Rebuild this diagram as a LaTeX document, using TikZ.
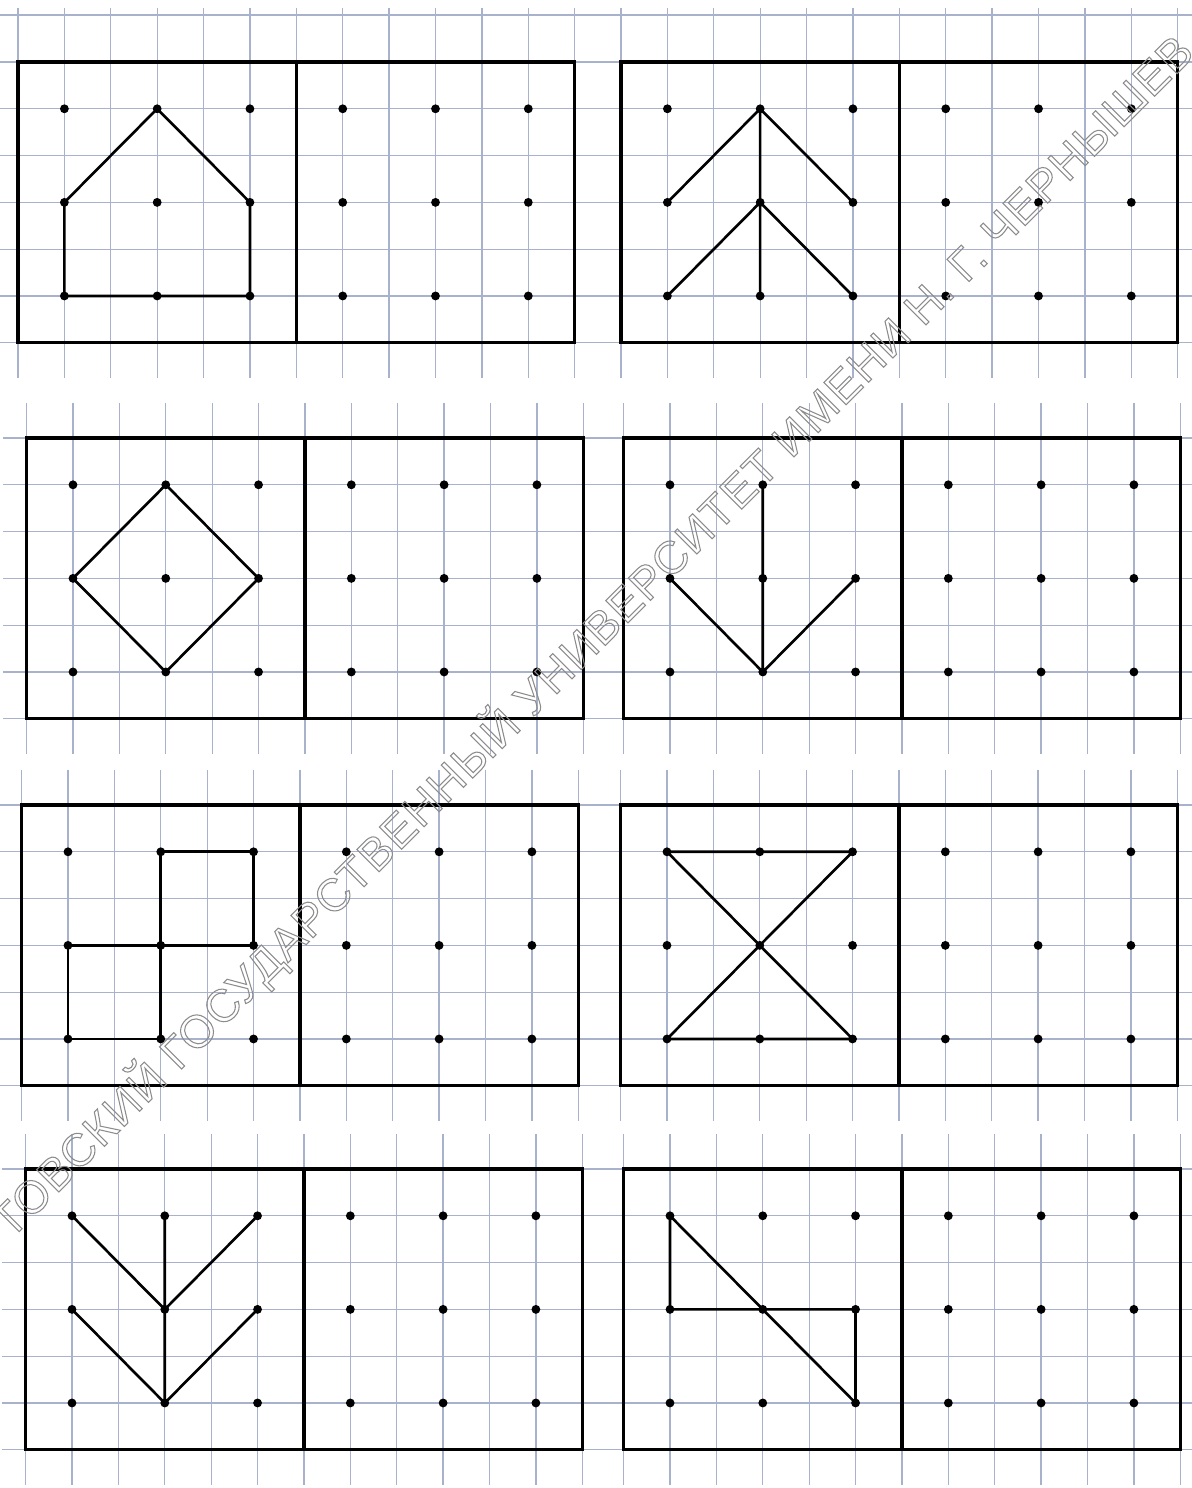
\documentclass[tikz,border=0pt]{standalone}
\usepackage{fontspec}
\setmainfont{Liberation Sans}
\newfontfamily\stampfont[LetterSpace=3]{Liberation Sans}

\newcommand{\sheetCellX}{0.928cm}
\newcommand{\sheetCellY}{0.936cm}
\definecolor{sheetgrid}{RGB}{168,178,204}
\definecolor{sheetstamp}{RGB}{140,140,140}

\tikzset{
  ws grid/.style={draw=sheetgrid, line width=0.75pt},
  ws frame/.style={draw=black, line width=1.8pt},
  ws figure/.style={draw=black, line width=1.5pt, line join=round, line cap=round},
  ws dot/.style={fill=black},
  ws stamp/.style={text=sheetstamp, font=\stampfont\fontsize{26}{26}\selectfont,
    rotate=45, inner sep=0pt},
}

% one exercise: squared paper, frame split in two halves, 3x3 dots in each half
% #1 name, #2 left (px), #3 top (px), #4 how far the grid reaches above (cells)
\newcommand{\sheetPanel}[4]{%
  \begin{scope}[shift={(#2,#3)}, x=\sheetCellX, y=-\sheetCellY]
    \foreach \k in {0,...,12}
      \draw[ws grid] (\k,-#4) -- (\k,6.75);
    \foreach \k in {0,...,6}
      \draw[ws grid] (-0.5,\k) -- (12.5,\k);
    \draw[ws frame] (0,0) rectangle (12,6) (6,0) -- (6,6);
    \foreach \i in {1,2,3}
      \foreach \j in {1,2,3} {
        \coordinate (#1-\i-\j) at ({2*\i-1},{2*\j-1});
        \coordinate (#1-copy-\i-\j) at ({2*\i+5},{2*\j-1});
        \fill[ws dot] (#1-\i-\j) circle[radius=0.095];
        \fill[ws dot] (#1-copy-\i-\j) circle[radius=0.095];
      }
  \end{scope}}

\begin{document}
\begin{tikzpicture}[x=0.02cm, y=-0.02cm]
\fill[white] (0,0) rectangle (1192,1488);
\clip (0,0) rectangle (1192,1488);

\draw[ws grid] (0,15) -- (1192,15);
\sheetPanel{house}{18}{62}{1.15}
\sheetPanel{fir}{621}{62}{1.15}
\sheetPanel{rhomb}{26.6}{438}{0.75}
\sheetPanel{arrow}{623.6}{438}{0.75}
\sheetPanel{steps}{21.6}{805}{0.75}
\sheetPanel{glass}{620.6}{805}{0.75}
\sheetPanel{branch}{25.6}{1169}{0.75}
\sheetPanel{flag}{623.6}{1169}{0.75}

% figures to copy
\draw[ws figure] (house-1-2) -- (house-2-1) -- (house-3-2) -- (house-3-3)
  -- (house-1-3) -- cycle;
\draw[ws figure] (fir-1-2) -- (fir-2-1) -- (fir-3-2)
  (fir-1-3) -- (fir-2-2) -- (fir-3-3) (fir-2-1) -- (fir-2-3);
\draw[ws figure] (rhomb-2-1) -- (rhomb-3-2) -- (rhomb-2-3) -- (rhomb-1-2) -- cycle;
\draw[ws figure] (arrow-2-1) -- (arrow-2-3) (arrow-1-2) -- (arrow-2-3) -- (arrow-3-2);
\draw[ws figure] (steps-2-1) -- (steps-3-1) -- (steps-3-2) -- (steps-1-2)
  -- (steps-1-3) -- (steps-2-3) -- (steps-2-1);
\draw[ws figure] (glass-1-1) -- (glass-3-1) -- (glass-1-3) -- (glass-3-3) -- cycle;
\draw[ws figure] (branch-1-1) -- (branch-2-2) -- (branch-3-1)
  (branch-1-2) -- (branch-2-3) -- (branch-3-2) (branch-2-1) -- (branch-2-3);
\draw[ws figure] (flag-1-1) -- (flag-3-3) -- (flag-3-2) -- (flag-1-2) -- cycle;

% library stamp
\node[ws stamp] (stamp) at (592,636)
  {\special{pdf:literal direct 1 Tr 0.6 w}ТОВСКИЙ ГОСУДАРСТВЕННЫЙ УНИВЕРСИТЕТ ИМЕНИ Н. Г. ЧЕРНЫШЕВ\special{pdf:literal direct 0 Tr}};
\end{tikzpicture}
\end{document}
